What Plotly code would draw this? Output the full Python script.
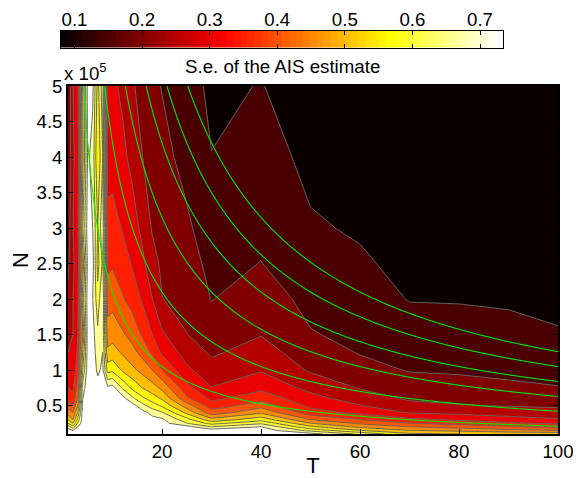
import numpy as np
import plotly.graph_objects as go

# ---------------- data ----------------
T = [1, 2, 3, 4, 5, 6, 7, 8, 9, 10, 12, 14, 16, 18, 20, 25, 30, 40, 50, 60, 70, 80, 90, 100]
N = [1e4, 1.5e4, 2e4, 2.5e4, 3e4, 4e4, 5e4, 6e4, 7.5e4, 1e5, 1.25e5, 1.5e5, 2e5, 2.5e5, 3e5, 4e5, 5e5]

# S.e. of the AIS estimate, one list per T (values for N ascending)
se_by_T = [
    [0.73, 0.72, 0.68, 0.60, 0.55, 0.48, 0.42, 0.38, 0.35, 0.32, 0.30, 0.28, 0.26, 0.24, 0.22, 0.21, 0.20],  # T=1
    [0.73, 0.70, 0.62, 0.55, 0.50, 0.45, 0.40, 0.37, 0.34, 0.32, 0.31, 0.30, 0.30, 0.29, 0.30, 0.29, 0.30],  # T=2
    [0.73, 0.72, 0.70, 0.66, 0.62, 0.56, 0.50, 0.46, 0.42, 0.38, 0.36, 0.35, 0.34, 0.33, 0.34, 0.33, 0.34],  # T=3
    [0.73, 0.73, 0.73, 0.73, 0.73, 0.73, 0.72, 0.70, 0.68, 0.60, 0.56, 0.50, 0.58, 0.52, 0.60, 0.54, 0.56],  # T=4
    [0.73, 0.73, 0.73, 0.73, 0.73, 0.73, 0.73, 0.73, 0.73, 0.73, 0.73, 0.73, 0.73, 0.72, 0.73, 0.71, 0.72],  # T=5
    [0.73, 0.73, 0.73, 0.73, 0.73, 0.73, 0.73, 0.73, 0.73, 0.73, 0.73, 0.72, 0.70, 0.72, 0.70, 0.68, 0.71],  # T=6
    [0.73, 0.73, 0.73, 0.73, 0.73, 0.73, 0.73, 0.73, 0.72, 0.69, 0.67, 0.66, 0.62, 0.58, 0.60, 0.55, 0.58],  # T=7
    [0.73, 0.73, 0.73, 0.73, 0.73, 0.73, 0.73, 0.73, 0.73, 0.71, 0.70, 0.68, 0.70, 0.66, 0.69, 0.65, 0.68],  # T=8
    [0.73, 0.73, 0.73, 0.73, 0.73, 0.73, 0.73, 0.73, 0.71, 0.58, 0.51, 0.475, 0.425, 0.39, 0.365, 0.33, 0.31],  # T=9
    [0.73, 0.73, 0.73, 0.73, 0.73, 0.73, 0.73, 0.73, 0.72, 0.588, 0.52, 0.482, 0.431, 0.394, 0.369, 0.33, 0.31],  # T=10
    [0.73, 0.73, 0.73, 0.73, 0.73, 0.73, 0.73, 0.72, 0.645, 0.543, 0.493, 0.457, 0.405, 0.374, 0.347, 0.313, 0.29],  # T=12
    [0.73, 0.73, 0.73, 0.73, 0.73, 0.73, 0.72, 0.661, 0.588, 0.5125, 0.467, 0.431, 0.381, 0.345, 0.323, 0.285, 0.256],  # T=14
    [0.73, 0.73, 0.73, 0.73, 0.73, 0.72, 0.667, 0.611, 0.55, 0.484, 0.433, 0.394, 0.344, 0.3125, 0.288, 0.251, 0.232],  # T=16
    [0.73, 0.73, 0.73, 0.73, 0.72, 0.683, 0.625, 0.575, 0.522, 0.451, 0.392, 0.351, 0.301, 0.269, 0.246, 0.229, 0.211],  # T=18
    [0.73, 0.73, 0.73, 0.72, 0.71, 0.656, 0.59, 0.543, 0.488, 0.401, 0.341, 0.308, 0.251, 0.241, 0.232, 0.214, 0.198],  # T=20
    [0.73, 0.73, 0.72, 0.652, 0.62, 0.5375, 0.475, 0.41, 0.366, 0.31, 0.278, 0.251, 0.236, 0.222, 0.208, 0.185, 0.17],  # T=25
    [0.73, 0.73, 0.652, 0.583, 0.52, 0.421, 0.373, 0.338, 0.302, 0.268, 0.243, 0.2275, 0.1985, 0.186, 0.174, 0.151, 0.14],  # T=30
    [0.73, 0.73, 0.702, 0.643, 0.583, 0.493, 0.428, 0.381, 0.3375, 0.296, 0.27, 0.248, 0.224, 0.201, 0.19, 0.17, 0.152],  # T=40
    [0.72, 0.633, 0.5625, 0.502, 0.452, 0.372, 0.3375, 0.317, 0.286, 0.244, 0.224, 0.203, 0.186, 0.17, 0.155, 0.138, 0.125],  # T=50
    [0.64, 0.552, 0.49, 0.442, 0.402, 0.338, 0.302, 0.277, 0.2465, 0.217, 0.197, 0.189, 0.172, 0.156, 0.145, 0.13, 0.118],  # T=60
    [0.56, 0.502, 0.452, 0.402, 0.364, 0.297, 0.266, 0.243, 0.224, 0.197, 0.184, 0.172, 0.148, 0.138, 0.13, 0.118, 0.108],  # T=70
    [0.55, 0.4875, 0.43, 0.383, 0.343, 0.287, 0.253, 0.2375, 0.217, 0.194, 0.181, 0.169, 0.147, 0.136, 0.128, 0.116, 0.106],  # T=80
    [0.54, 0.467, 0.41, 0.36, 0.321, 0.277, 0.247, 0.231, 0.208, 0.19, 0.177, 0.164, 0.144, 0.133, 0.124, 0.112, 0.103],  # T=90
    [0.54, 0.452, 0.39, 0.343, 0.307, 0.268, 0.242, 0.226, 0.202, 0.185, 0.169, 0.154, 0.138, 0.127, 0.118, 0.107, 0.10],  # T=100
]

se_levels = [0.15, 0.70, 0.05]          # start, end, step of the S.e. contours
cost_levels = [2.1e6, 1.26e7, 2.1e6]    # iso-cost (N*T) lines
cbar_range = [0.08, 0.734]
cbar_ticks = [0.1, 0.2, 0.3, 0.4, 0.5, 0.6, 0.7]
x_ticks = [20, 40, 60, 80, 100]
N_ticks = [0.5e5, 1e5, 1.5e5, 2e5, 2.5e5, 3e5, 3.5e5, 4e5, 4.5e5, 5e5]
N_ticktext = ["0.5", "1", "1.5", "2", "2.5", "3", "3.5", "4", "4.5", "5"]

# ---------------- styling helpers ----------------
def hot64(i):
    # MATLAB hot(64) entry i (0-based)
    k = i + 1
    r = min(k / 24, 1.0)
    g = min(max((k - 24) / 24, 0.0), 1.0)
    b = min(max((k - 48) / 16, 0.0), 1.0)
    return "rgb(%d,%d,%d)" % (round(r * 255), round(g * 255), round(b * 255))

# band colours (background, then band above each level)
band_colors = ["rgb(10,0,0)", "rgb(74,0,0)", "rgb(128,0,0)", "rgb(181,0,0)", "rgb(234,0,0)",
               "rgb(255,32,0)", "rgb(255,85,0)", "rgb(255,138,0)", "rgb(255,191,0)",
               "rgb(255,244,0)", "rgb(255,255,48)", "rgb(255,255,150)", "rgb(255,255,255)"]
nb = len(band_colors) - 1
band_scale = [[k / nb, c] for k, c in enumerate(band_colors)]

Z = np.array(se_by_T).T

font = dict(family="Liberation Sans, Arial, sans-serif", size=18.7, color="black")

fig = go.Figure()

fig.add_trace(go.Contour(
    x=T, y=N, z=Z,
    autocontour=False,
    contours=dict(start=se_levels[0], end=se_levels[1], size=se_levels[2], coloring="fill"),
    colorscale=band_scale,
    line=dict(color="rgb(100,100,100)", width=1.0, smoothing=0),
    showscale=False, hoverinfo="skip",
))

# iso-cost lines N*T = const
Tf = np.linspace(1, 100, 397)
Nf = np.linspace(1e4, 5e5, 197)
cost = np.outer(Nf, Tf)
fig.add_trace(go.Contour(
    x=Tf, y=Nf, z=cost,
    autocontour=False,
    contours=dict(start=cost_levels[0], end=cost_levels[1], size=cost_levels[2], coloring="lines"),
    colorscale=[[0, "rgb(0,235,0)"], [1, "rgb(0,235,0)"]],
    line=dict(width=1.1),
    showscale=False, hoverinfo="skip",
))

# horizontal colour bar (MATLAB hot, 64 steps)
step = (cbar_range[1] - cbar_range[0]) / 64
cb_x = [cbar_range[0] + (i + 0.5) * step for i in range(64)]
fig.add_trace(go.Heatmap(
    x=cb_x, y=[0], z=[list(range(64))], zmin=0, zmax=63,
    colorscale=[[i / 63, hot64(i)] for i in range(64)],
    showscale=False, hoverinfo="skip", xaxis="x2", yaxis="y2",
))

# the page body adds an 8 px offset; lay the figure out in window pixels
OFF = 8
W, H = 581 - OFF, 478 - OFF
ml, mr, mt, mb = 52, 14, 22, 36
pw, ph = W - ml - mr, H - mt - mb
def px_x(x):
    return (x - OFF - ml) / pw
def px_y(y):
    return (H - mb - (y - OFF)) / ph

fig.update_layout(
    width=W, height=H,
    margin=dict(l=ml, r=mr, t=mt, b=mb, pad=0),
    paper_bgcolor="white", plot_bgcolor="white",
    font=font, showlegend=False,
    xaxis=dict(domain=[px_x(68), px_x(558)], range=[1, 100], tickvals=x_ticks,
               ticks="inside", ticklen=5, tickwidth=1, tickcolor="black",
               showline=True, linecolor="black", linewidth=1.5, mirror="ticks",
               showgrid=False, zeroline=False, automargin=False,
               title=dict(text="T", standoff=0), anchor="y"),
    yaxis=dict(domain=[px_y(434), px_y(86)], range=[1e4, 5e5], tickvals=N_ticks, ticktext=N_ticktext,
               ticks="inside", ticklen=5, tickwidth=1, tickcolor="black",
               showline=True, linecolor="black", linewidth=1.5, mirror="ticks",
               showgrid=False, zeroline=False, automargin=False,
               title=dict(text="N", standoff=8), anchor="x"),
    xaxis2=dict(domain=[px_x(61), px_x(503)], range=cbar_range, tickvals=cbar_ticks,
                side="top", anchor="y2", ticks="inside", ticklen=4, tickcolor="black",
                ticklabelstandoff=-3,
                showline=True, linecolor="black", linewidth=1, mirror="ticks",
                showgrid=False, zeroline=False, automargin=False),
    yaxis2=dict(domain=[px_y(47.5), px_y(31)], range=[-0.5, 0.5], anchor="x2",
                showticklabels=False, ticks="", showline=True, linecolor="black",
                linewidth=1, mirror=True, showgrid=False, zeroline=False, automargin=False),
    annotations=[
        dict(text="S.e. of the AIS estimate", xref="paper", yref="paper",
             x=px_x(282), y=px_y(67), xanchor="center", yanchor="middle",
             showarrow=False, font=font),
        dict(text="x 10<sup>5</sup>", xref="paper", yref="paper",
             x=px_x(62), y=px_y(86), xanchor="left", yanchor="bottom",
             showarrow=False, font=font),
    ],
)

fig.write_html("out.html", config={"displayModeBar": False})
